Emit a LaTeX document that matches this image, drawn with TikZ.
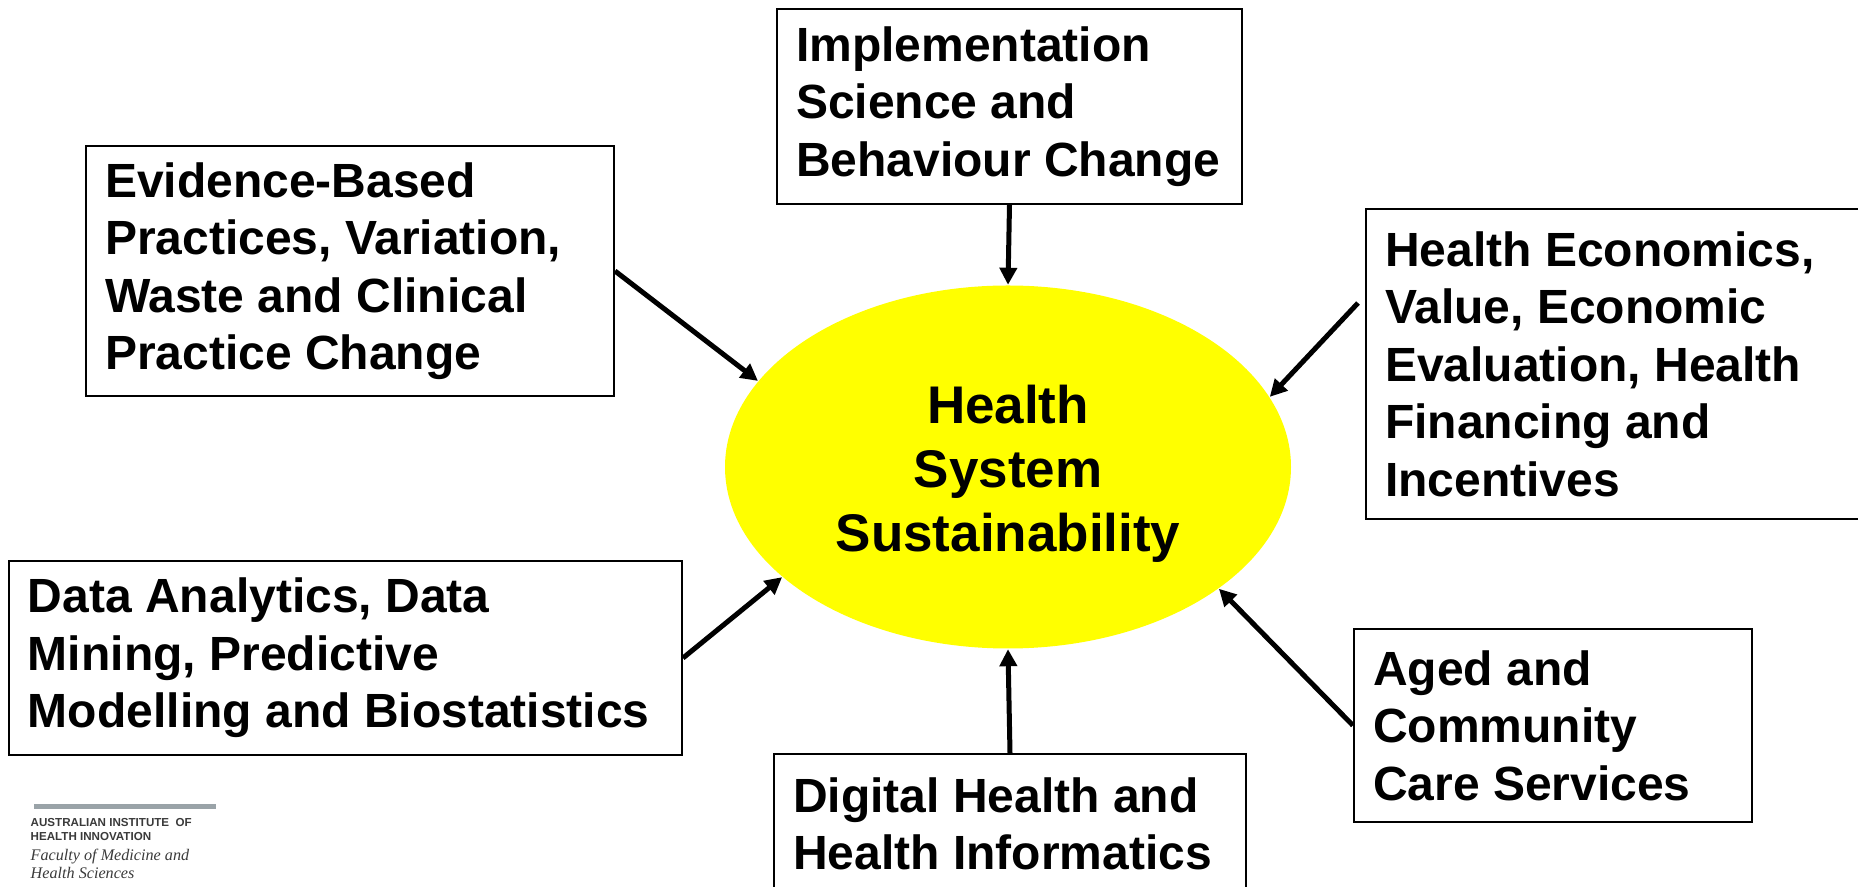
\documentclass[tikz,border=0pt]{standalone}
\usepackage{fontspec}
\setmainfont{Liberation Sans}
\newfontfamily\logoserif{Liberation Serif}
\usetikzlibrary{arrows.meta,shapes.geometric}
\definecolor{logogray}{HTML}{9AA3A8}
\definecolor{logotext}{HTML}{3A3A3A}
\definecolor{healthyellow}{HTML}{FFFF00}
\tikzset{
  topicbox/.style={draw,line width=0.02cm,anchor=north west,align=flush left,inner xsep=0.19cm,inner ysep=0,font=\fontsize{13.66}{16.36}\selectfont\bfseries},
  logocaps/.style={anchor=west,inner sep=0,text=logotext,font=\fontsize{3.3}{4}\selectfont\bfseries},
  logoital/.style={anchor=west,inner sep=0,text=logotext,font=\logoserif\fontsize{4.6}{6}\selectfont\itshape}
}

\begin{document}
\begin{tikzpicture}[>={Triangle[length=0.17cm,width=0.17cm]}]
  \useasboundingbox (0,0) rectangle (18.58,-8.87);

  \node[ellipse,fill=healthyellow,inner sep=0,minimum width=5.66cm,minimum height=3.63cm,align=center,font=\fontsize{15.08}{18.2}\selectfont\bfseries] (health) at (10.08,-4.67) {\rule{0pt}{0.52cm}Health\\System\\Sustainability};

  \node[topicbox,text width=4.27cm,minimum height=1.95cm] (impl) at (7.76,-0.08) {Implementation\\Science and\\Behaviour Change};
  \node[topicbox,text width=4.9cm,minimum height=2.5cm] (evidence) at (0.85,-1.45) {Evidence-Based\\Practices, Variation,\\Waste and Clinical\\Practice Change};
  \node[topicbox,text width=4.72cm,minimum height=3.1cm] (econ) at (13.65,-2.08) {Health Economics,\\Value, Economic\\Evaluation, Health\\Financing and\\Incentives};
  \node[topicbox,text width=6.35cm,minimum height=1.94cm] (data) at (0.08,-5.6) {Data Analytics, Data\\Mining, Predictive\\Modelling and Biostatistics};
  \node[topicbox,text width=3.6cm,minimum height=1.93cm] (aged) at (13.53,-6.28) {Aged and\\Community\\Care Services};
  \node[topicbox,text width=4.34cm,minimum height=1.4cm] (digital) at (7.73,-7.53) {Digital Health and\\Health Informatics};

  \coordinate (econout) at (13.58,-3.03);

  \draw[line width=0.05cm,->] (impl.south) -- (health.north);
  \draw[line width=0.05cm,->] (evidence.east) -- (health.161.4);
  \draw[line width=0.05cm,->] (econout) -- (health.15.5);
  \draw[line width=0.05cm,->] (data.east) -- (health.206.2);
  \draw[line width=0.05cm,->] (aged.west) -- (health.-30);
  \draw[line width=0.05cm,->] (digital.north) -- (health.south);

  \fill[logogray] (0.34,-8.04) rectangle (2.16,-8.09);
  \node[logocaps] (logoa) at (0.3,-8.23) {AUSTRALIAN INSTITUTE\ \ OF};
  \node[logocaps] (logob) at (0.3,-8.37) {HEALTH INNOVATION};
  \node[logoital] (logoc) at (0.3,-8.57) {Faculty of Medicine and};
  \node[logoital] (logod) at (0.3,-8.73) {Health Sciences};
\end{tikzpicture}
\end{document}
